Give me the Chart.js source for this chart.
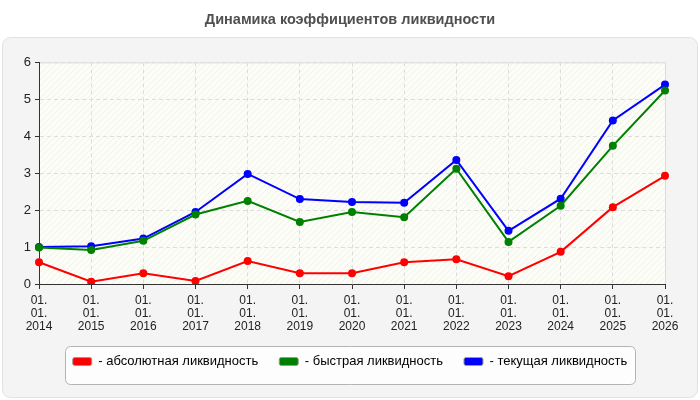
<!DOCTYPE html>
<html>
<head>
<meta charset="utf-8">
<script src="https://cdn.jsdelivr.net/npm/chart.js@4"></script>
<style>
  html, body { margin: 0; padding: 0; background: #fff; }
  #wrap { width: 700px; height: 400px; }
</style>
</head>
<body>
<div id="wrap"><canvas id="liqChart" width="700" height="400"></canvas></div>
<script>
// Data
var years = ['2014', '2015', '2016', '2017', '2018', '2019', '2020', '2021', '2022', '2023', '2024', '2025', '2026'];
var absLiquidity = [0.59, 0.06, 0.29, 0.08, 0.62, 0.29, 0.29, 0.59, 0.67, 0.21, 0.87, 2.08, 2.93];
var quickLiquidity = [0.99, 0.92, 1.17, 1.88, 2.25, 1.68, 1.95, 1.81, 3.12, 1.14, 2.12, 3.74, 5.24];
var currentLiquidity = [1.00, 1.02, 1.23, 1.95, 2.98, 2.30, 2.22, 2.20, 3.36, 1.44, 2.31, 4.43, 5.40];
var seriesNames = ['- абсолютная ликвидность', '- быстрая ликвидность', '- текущая ликвидность'];
var seriesColors = ['#ff0000', '#008000', '#0000ff'];

var sans = "'Liberation Sans', Arial, sans-serif";

// each tick label is "01." / "01." / year on three lines
var labels = years.map(function(y) { return ['01.', '01.', y]; });

function roundRect(ctx, x, y, w, h, r) {
    ctx.beginPath();
    ctx.moveTo(x + r, y);
    ctx.lineTo(x + w - r, y);
    ctx.arcTo(x + w, y, x + w, y + r, r);
    ctx.lineTo(x + w, y + h - r);
    ctx.arcTo(x + w, y + h, x + w - r, y + h, r);
    ctx.lineTo(x + r, y + h);
    ctx.arcTo(x, y + h, x, y + h - r, r);
    ctx.lineTo(x, y + r);
    ctx.arcTo(x, y, x + r, y, r);
    ctx.closePath();
}

// faint diagonal hatch used behind the plot
function makeHatch(ctx) {
    var c = document.createElement('canvas');
    c.width = 6; c.height = 6;
    var p = c.getContext('2d');
    p.fillStyle = '#fdfdf8';
    p.fillRect(0, 0, 6, 6);
    p.strokeStyle = '#f1f1ea';
    p.lineWidth = 1;
    p.beginPath();
    p.moveTo(0, 6); p.lineTo(6, 0);
    p.moveTo(-3, 3); p.lineTo(3, -3);
    p.moveTo(3, 9); p.lineTo(9, 3);
    p.stroke();
    return ctx.createPattern(c, 'repeat');
}

var backdrop = {
    id: 'backdrop',
    beforeDraw: function(chart) {
        var ctx = chart.ctx;
        var a = chart.chartArea;
        ctx.save();
        ctx.fillStyle = '#ffffff';
        ctx.fillRect(0, 0, chart.width, chart.height);

        // grey panel
        roundRect(ctx, 2.5, 37.5, 695, 360, 8);
        ctx.fillStyle = '#f4f4f4';
        ctx.fill();
        ctx.strokeStyle = '#e2e2e2';
        ctx.lineWidth = 1;
        ctx.stroke();

        // plot background
        ctx.fillStyle = makeHatch(ctx);
        ctx.fillRect(a.left, a.top, a.right - a.left, a.bottom - a.top);
        ctx.strokeStyle = '#dddddd';
        ctx.beginPath();
        ctx.moveTo(a.left, a.top + 0.5);
        ctx.lineTo(a.right + 0.5, a.top + 0.5);
        ctx.lineTo(a.right + 0.5, a.bottom);
        ctx.stroke();

        // legend frame
        var boxes = chart.legend.legendHitBoxes;
        if (boxes && boxes.length) {
            var first = boxes[0], last = boxes[boxes.length - 1];
            var cy = first.top + first.height / 2;
            var x0 = Math.round(first.left) - 7.5;
            var x1 = Math.round(last.left + last.width) + 8.5;
            roundRect(ctx, x0, Math.round(cy) - 15.5, x1 - x0, 38, 5);
            ctx.fillStyle = '#fdfdfd';
            ctx.fill();
            ctx.strokeStyle = '#b4b4b4';
            ctx.stroke();
        }
        ctx.restore();
    }
};

var ctx = document.getElementById('liqChart').getContext('2d');
var liqChart = new Chart(ctx, {
    type: 'line',
    data: {
        labels: labels,
        datasets: [
            { label: seriesNames[0], data: absLiquidity, borderColor: seriesColors[0], backgroundColor: seriesColors[0] },
            { label: seriesNames[1], data: quickLiquidity, borderColor: seriesColors[1], backgroundColor: seriesColors[1] },
            { label: seriesNames[2], data: currentLiquidity, borderColor: seriesColors[2], backgroundColor: seriesColors[2] }
        ]
    },
    options: {
        responsive: false,
        animation: false,
        devicePixelRatio: 1,
        layout: { padding: { left: 0, right: 0, top: 0, bottom: 22 } },
        elements: {
            line: { borderWidth: 2, tension: 0 },
            point: { radius: 4, borderWidth: 0, hoverRadius: 4 }
        },
        plugins: {
            title: {
                display: true,
                text: 'Динамика коэффициентов ликвидности',
                color: '#505050',
                font: { family: sans, size: 14.5, weight: 'bold' },
                padding: { top: 11, bottom: 34 }
            },
            legend: {
                position: 'bottom',
                labels: {
                    boxWidth: 19,
                    boxHeight: 8,
                    padding: 21,
                    color: '#222222',
                    font: { family: sans, size: 13 },
                    generateLabels: function(chart) {
                        return chart.data.datasets.map(function(ds, i) {
                            return {
                                text: ds.label,
                                fillStyle: ds.borderColor,
                                strokeStyle: '#9a9a9a',
                                lineWidth: 1,
                                borderRadius: 2,
                                hidden: false,
                                datasetIndex: i
                            };
                        });
                    },
                    useBorderRadius: true,
                    borderRadius: 2
                }
            },
            tooltip: { enabled: false }
        },
        scales: {
            x: {
                offset: false,
                border: { color: '#333333', width: 1, dash: [4, 3] },
                grid: {
                    color: '#dddddd',
                    tickColor: '#333333',
                    tickLength: 5,
                    tickBorderDash: []
                },
                ticks: {
                    color: '#222222',
                    maxRotation: 0,
                    autoSkip: false,
                    padding: 5,
                    font: { family: sans, size: 12, lineHeight: '13px' }
                },
                afterFit: function(scale) { scale.height = 50; }
            },
            y: {
                min: 0,
                max: 6,
                border: { color: '#333333', width: 1, dash: [4, 3] },
                grid: {
                    color: '#dddddd',
                    tickColor: '#333333',
                    tickLength: 4,
                    tickBorderDash: []
                },
                ticks: {
                    stepSize: 1,
                    color: '#222222',
                    padding: 4,
                    font: { family: sans, size: 13 }
                },
                afterFit: function(scale) { scale.width = 39; }
            },
            // empty right-hand axis that only reserves the margin right of the plot
            spacer: {
                type: 'linear',
                position: 'right',
                min: 0,
                max: 6,
                border: { display: false },
                grid: { display: false, drawTicks: false },
                ticks: { display: false },
                afterFit: function(scale) { scale.width = 35; }
            }
        }
    },
    plugins: [backdrop]
});
</script>
</body>
</html>
